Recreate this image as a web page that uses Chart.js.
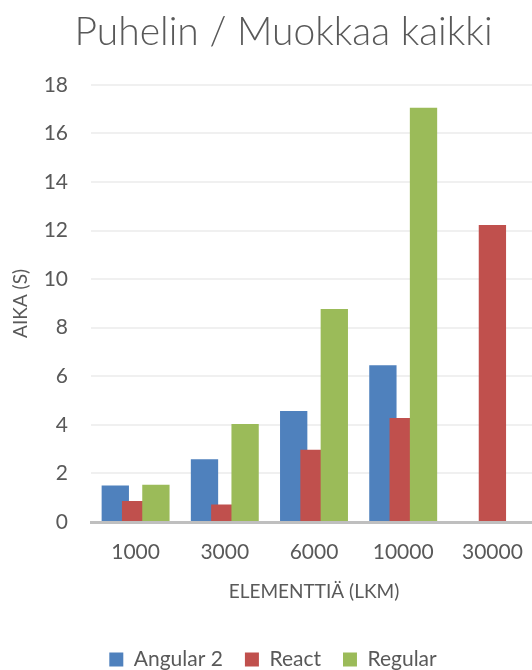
<!DOCTYPE html>
<html>
<head>
<meta charset="utf-8">
<script src="https://cdn.jsdelivr.net/npm/chart.js@4/dist/chart.umd.min.js"></script>
<style>
  html, body { margin: 0; padding: 0; background: #fff; overflow: hidden; }
  #wrap { width: 564px; height: 670px; }
</style>
</head>
<body>
<div id="wrap"><canvas id="c" width="564" height="670"></canvas></div>
<script>
// Element counts on the x axis
const categories = ['1000', '3000', '6000', '10000', '30000'];

// Measured times in seconds
const angular2 = [1.5, 2.58, 4.57, 6.45, null];
const react = [0.86, 0.72, 2.97, 4.28, 12.23];
const regular = [1.53, 4.03, 8.77, 17.05, null];

const seriesNames = ['Angular 2', 'React', 'Regular'];
const seriesColors = ['#4F81BD', '#C0504D', '#9BBB59'];

const yTicks = { min: 0, max: 18, step: 2 };

const textColor = '#595959';
const fontFamily = 'Lato, "Open Sans", sans-serif';

// Draw the series left to right so each bar overlaps the one before it
const paintOrder = {
  id: 'paintOrder',
  beforeDatasetsDraw(chart) {
    const area = chart.chartArea;
    const ctx = chart.ctx;
    ctx.save();
    ctx.beginPath();
    ctx.rect(area.left, area.top - 2, area.right - area.left, area.bottom - area.top + 2);
    ctx.clip();
    chart.getSortedVisibleDatasetMetas().forEach(meta => meta.controller.draw());
    ctx.restore();
    return false;
  }
};

const datasets = [angular2, react, regular].map((values, i) => ({
  label: seriesNames[i],
  data: values,
  backgroundColor: seriesColors[i],
  borderWidth: 0,
  categoryPercentage: 0.683,
  barPercentage: 1.345
}));

new Chart(document.getElementById('c'), {
  type: 'bar',
  data: { labels: categories, datasets },
  plugins: [paintOrder],
  options: {
    responsive: false,
    animation: false,
    layout: { padding: { left: 9, right: 27, top: 0, bottom: -10 } },
    plugins: {
      title: {
        display: true,
        text: '  Puhelin / Muokkaa kaikki',
        color: textColor,
        font: { family: fontFamily, size: 39, weight: '300' },
        padding: { top: 9, bottom: 29 }
      },
      legend: {
        position: 'bottom',
        labels: {
          color: textColor,
          font: { family: fontFamily, size: 21 },
          boxWidth: 14,
          boxHeight: 14,
          padding: 22
        }
      },
      tooltip: { enabled: false }
    },
    scales: {
      x: {
        grid: { display: false },
        border: { display: true, color: '#BFBFBF', width: 3 },
        ticks: { color: textColor, font: { family: fontFamily, size: 21 }, padding: 10 },
        title: {
          display: true,
          text: 'ELEMENTTIÄ (LKM)',
          color: textColor,
          font: { family: fontFamily, size: 19 },
          padding: { top: 5, bottom: 24 }
        }
      },
      y: {
        min: yTicks.min,
        max: yTicks.max,
        afterFit(scale) { scale.width = 82; },
        grid: { color: '#F0F0F0', lineWidth: 2, drawTicks: false },
        border: { display: false },
        ticks: {
          stepSize: yTicks.step,
          color: textColor,
          font: { family: fontFamily, size: 21 },
          padding: 23
        },
        title: {
          display: true,
          text: 'AIKA (S)',
          color: textColor,
          font: { family: fontFamily, size: 19 },
          padding: { top: 0, bottom: 0 }
        }
      }
    }
  }
});
</script>
</body>
</html>
